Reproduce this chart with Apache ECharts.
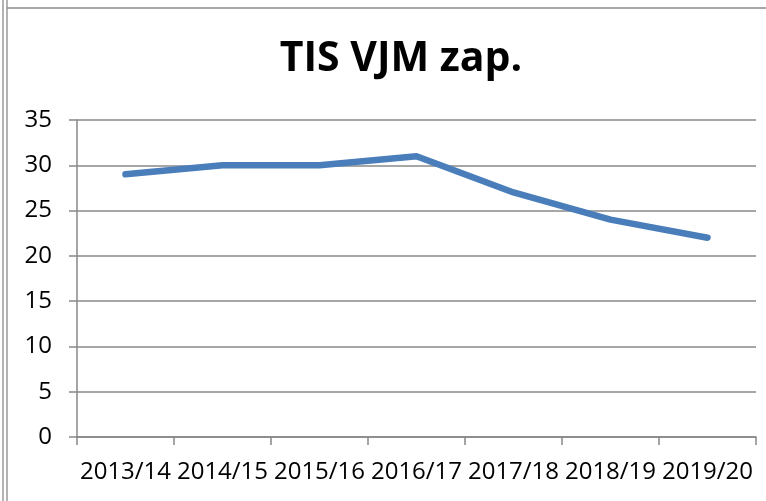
<!DOCTYPE html>
<html><head><meta charset="utf-8">
<script src="https://cdn.jsdelivr.net/npm/echarts@6/dist/echarts.min.js"></script>
<style>html,body{margin:0;padding:0;background:#fff}#c{width:766px;height:501px}</style>
</head><body><div id="c"></div>
<script>
const title = 'TIS VJM zap.';
const categories = ['2013/14','2014/15','2015/16','2016/17','2017/18','2018/19','2019/20'];
const values = [29, 30, 30, 31, 27, 24, 22];
const yMin = 0, yMax = 35, yStep = 5;

const chart = echarts.init(document.getElementById('c'), null, {renderer:'canvas'});
const FONT = '"Open Sans", "Noto Sans", sans-serif';
chart.setOption({
  animation: false,
  backgroundColor: '#fff',
  title: {
    text: title, left: 396, top: 34, textAlign: 'center',
    textStyle: {fontFamily: FONT, fontWeight: 'bold', fontSize: 41, color: '#000'}
  },
  graphic: [
    {type:'line', shape:{x1:3,y1:0,x2:3,y2:501}, style:{stroke:'#9a9a9a', lineWidth:1.5}},
    {type:'line', shape:{x1:7,y1:0,x2:7,y2:501}, style:{stroke:'#9a9a9a', lineWidth:1.5}},
    {type:'line', shape:{x1:7,y1:8,x2:766,y2:8}, style:{stroke:'#8a8a8a', lineWidth:1.5}}
  ],
  grid: {left: 77, right: 10, top: 120, bottom: 64, containLabel: false},
  xAxis: {
    type: 'category', data: categories, boundaryGap: true,
    axisLine: {show: true, lineStyle: {color: '#888', width: 1.5}},
    axisTick: {show: true, length: 8, alignWithLabel: false, interval: 0, lineStyle: {color: '#888', width: 1.5}},
    axisLabel: {interval: 0, margin: 23, fontFamily: FONT, fontSize: 24, color: '#000'}
  },
  yAxis: {
    type: 'value', min: yMin, max: yMax, interval: yStep,
    axisLine: {show: true, lineStyle: {color: '#888', width: 1.5}},
    axisTick: {show: true, length: 8, lineStyle: {color: '#888', width: 1.5}},
    axisLabel: {margin: 25, fontFamily: FONT, fontSize: 24, color: '#000'},
    splitLine: {show: true, lineStyle: {color: '#888', width: 1.5}}
  },
  series: [{
    type: 'line', data: values, showSymbol: false, symbol: 'none',
    lineStyle: {color: '#4a7ebb', width: 6.5, cap: 'round', join: 'round'}
  }]
});
</script></body></html>
